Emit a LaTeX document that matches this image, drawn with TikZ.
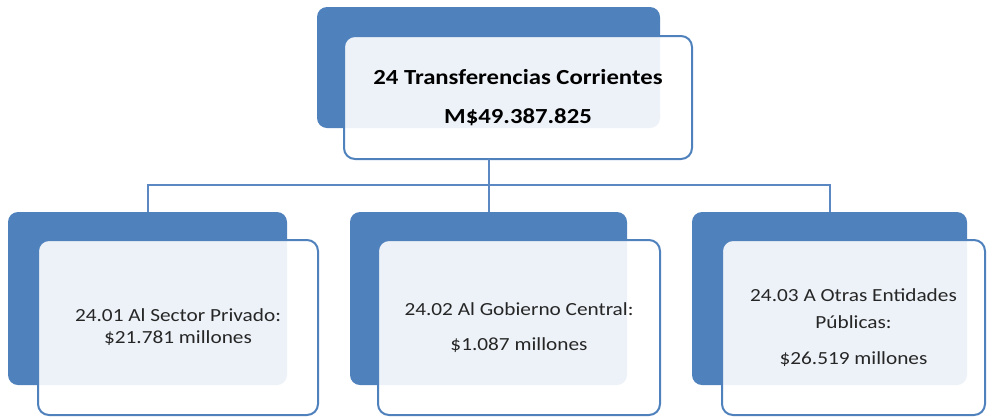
\documentclass[tikz,border=0pt]{standalone}
\usepackage{fontspec}
\setmainfont{Carlito}[FakeStretch=1.15]
\definecolor{boxblue}{HTML}{4F81BD}
\definecolor{lineblue}{HTML}{5B87C2}
\begin{document}
\begin{tikzpicture}[x=1pt,y=-1pt,
  backbox/.style={fill=boxblue,draw=none,rounded corners=10pt,inner sep=0pt,outer sep=0pt},
  frontbox/.style={fill=white,fill opacity=0.9,text opacity=1,draw=boxblue,line width=2pt,rounded corners=11pt,inner sep=0pt,outer sep=0pt,align=center},
  toptext/.style={font=\fontsize{21.5}{25}\selectfont\bfseries},
  childtext/.style={font=\fontsize{18.5}{22}\selectfont,text=black!85},
  conn/.style={draw=lineblue,line width=2pt}]
\useasboundingbox (0,0) rectangle (987,416);
% back boxes
\node[backbox,minimum width=343pt,minimum height=121pt] (b0) at (488.5,67.5) {};
\node[backbox,minimum width=279pt,minimum height=173pt] (b1) at (147.5,298.5) {};
\node[backbox,minimum width=277pt,minimum height=173pt] (b2) at (488.5,298.5) {};
\node[backbox,minimum width=275pt,minimum height=173pt] (b3) at (829.5,298.5) {};
% front boxes
\node[frontbox,toptext,minimum width=348pt,minimum height=123pt] (f0) at (518,97.5)
  {24 Transferencias Corrientes\\[14pt]M\$49.387.825};
\node[frontbox,childtext,minimum width=280pt,minimum height=175pt] (f1) at (178,327.5)
  {24.01 Al Sector Privado:\\[0pt]\$21.781 millones};
\node[frontbox,childtext,minimum width=282pt,minimum height=175pt] (f2) at (519,327.5)
  {24.02 Al Gobierno Central:\\[13pt]\$1.087 millones};
\node[frontbox,childtext,minimum width=263pt,minimum height=175pt] (f3) at (853.5,327.5)
  {24.03 A Otras Entidades\\[5pt]Públicas:\\[14pt]\$26.519 millones};
% connectors
\coordinate (hub) at (488.5,185);
\draw[conn] (b0.center |- f0.south) -- (hub);
\draw[conn] (b1.north) |- (hub) -| (b3.north);
\draw[conn] (hub) -- (b2.north);
\end{tikzpicture}
\end{document}
